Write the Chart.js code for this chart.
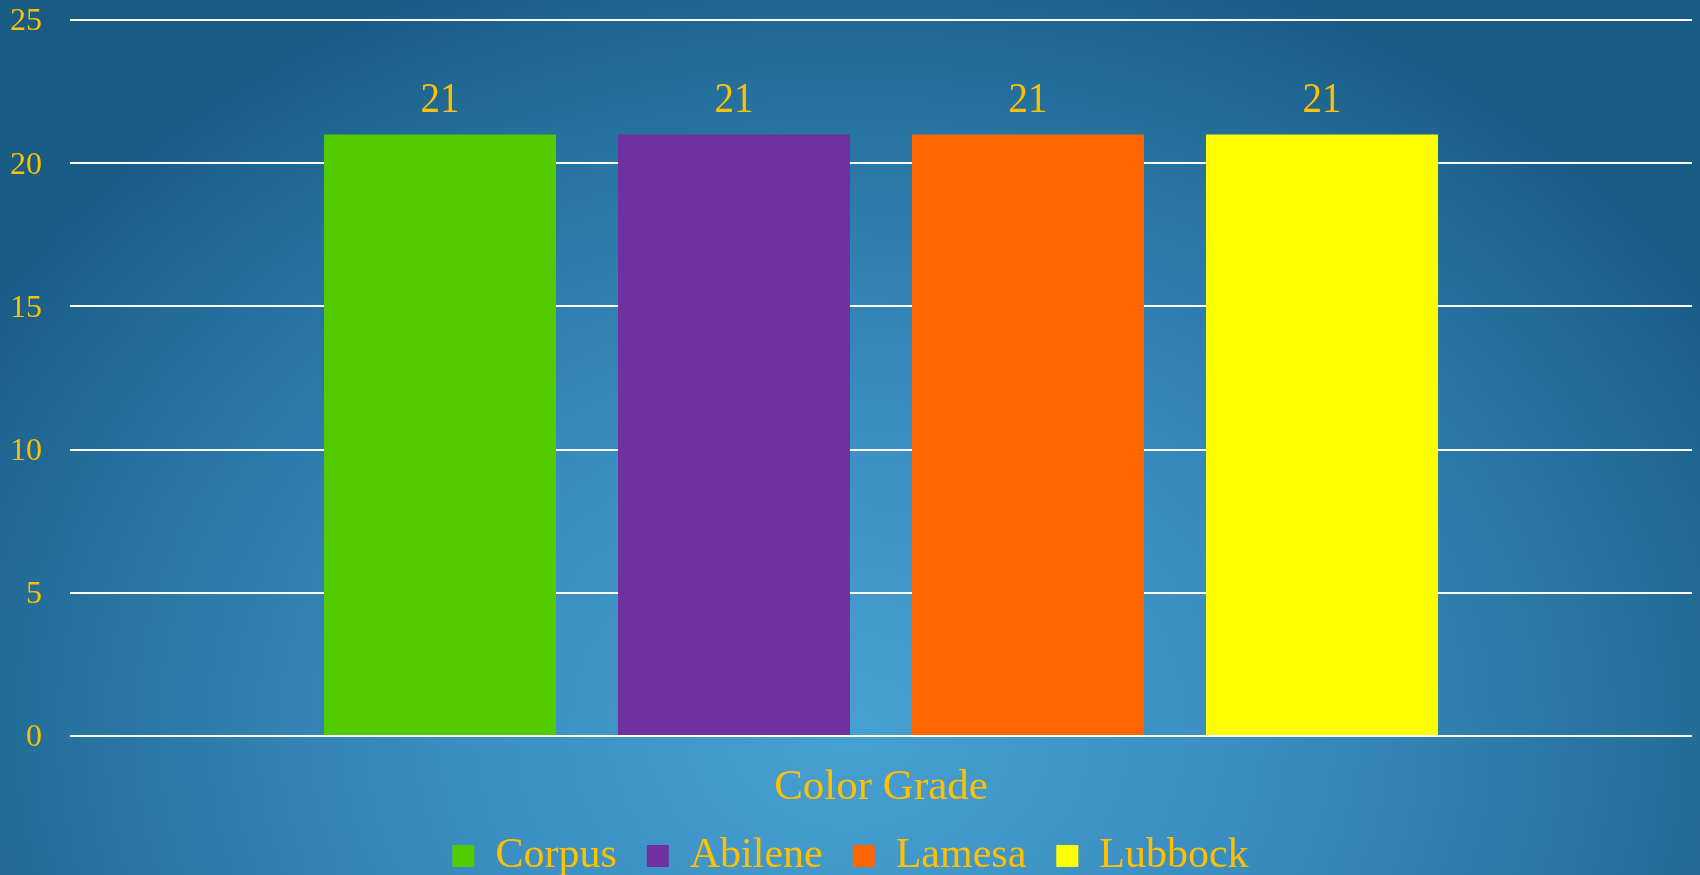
<!DOCTYPE html>
<html>
<head>
<meta charset="utf-8">
<script src="https://cdn.jsdelivr.net/npm/chart.js@4"></script>
<style>
  html, body { margin: 0; padding: 0; overflow: hidden; background: #1b5f88; }
  #wrap { width: 1700px; height: 887px; }
</style>
</head>
<body>
<div id="wrap"><canvas id="myChart" width="1700" height="887"></canvas></div>
<script>
const categories = ["Color Grade"];
const seriesNames = ["Corpus", "Abilene", "Lamesa", "Lubbock"];
const corpusValues = [21];
const abileneValues = [21];
const lamesaValues = [21];
const lubbockValues = [21];
const yTicks = [0, 5, 10, 15, 20, 25];

const gold = "#ffc000";
const fontFamily = "'Liberation Serif', 'Times New Roman', serif";

// radial blue backdrop
const backdrop = {
  id: "backdrop",
  beforeDraw(chart) {
    const ctx = chart.ctx;
    ctx.save();
    ctx.translate(850, 730);
    ctx.scale(1.25, 1);
    const g = ctx.createRadialGradient(0, 0, 0, 0, 0, 820);
    g.addColorStop(0, "#47a0d2");
    g.addColorStop(0.4, "#3a8dc0");
    g.addColorStop(0.75, "#2773a0");
    g.addColorStop(1, "#185c86");
    ctx.fillStyle = g;
    ctx.fillRect(-850 / 1.25, -730, 1700 / 1.25, 887);
    ctx.restore();
  },
};

// value labels above the bars (text is a bit stretched vertically in the original)
const valueLabels = {
  id: "valueLabels",
  afterDatasetsDraw(chart) {
    const ctx = chart.ctx;
    ctx.save();
    ctx.font = "39px " + fontFamily;
    ctx.fillStyle = gold;
    ctx.textAlign = "center";
    ctx.textBaseline = "alphabetic";
    chart.data.datasets.forEach((ds, i) => {
      chart.getDatasetMeta(i).data.forEach((bar, j) => {
        ctx.save();
        ctx.translate(bar.x, bar.y - 23);
        ctx.scale(1, 1.08);
        ctx.fillText(String(ds.data[j]), 0, 0);
        ctx.restore();
      });
    });
    ctx.restore();
  },
};

const seriesValues = [corpusValues, abileneValues, lamesaValues, lubbockValues];
const seriesColors = ["#52cc00", "#7030a0", "#ff6600", "#ffff00"];

const ctx = document.getElementById("myChart").getContext("2d");
new Chart(ctx, {
  type: "bar",
  data: {
    labels: categories,
    datasets: seriesNames.map((name, i) => ({
      label: name,
      data: seriesValues[i],
      backgroundColor: seriesColors[i],
      borderWidth: 0,
      categoryPercentage: 0.725,
      barPercentage: 0.789,
    })),
  },
  options: {
    responsive: false,
    animation: false,
    layout: { padding: { left: 9, right: 8, top: 0, bottom: 0 } },
    plugins: {
      tooltip: { enabled: false },
      legend: {
        position: "bottom",
        labels: {
          color: gold,
          font: { family: fontFamily, size: 42 },
          boxWidth: 22,
          boxHeight: 22,
          padding: 30,
        },
      },
    },
    scales: {
      x: {
        grid: { display: false },
        border: { display: false },
        ticks: {
          color: gold,
          font: { family: fontFamily, size: 43 },
          padding: 18,
        },
        afterFit(axis) {
          axis.height = 69;
        },
      },
      y: {
        min: 0,
        max: 25,
        afterBuildTicks(axis) {
          axis.ticks = yTicks.map((v) => ({ value: v }));
        },
        grid: { color: "#ffffff", lineWidth: 2, drawTicks: false },
        border: { display: false },
        ticks: {
          color: gold,
          font: { family: fontFamily, size: 32 },
          padding: 28,
          labelOffset: 2,
        },
        afterFit(axis) {
          axis.width = 61;
          axis.paddingTop = 20;
          axis.paddingBottom = 0;
        },
      },
    },
  },
  plugins: [backdrop, valueLabels],
});
</script>
</body>
</html>
